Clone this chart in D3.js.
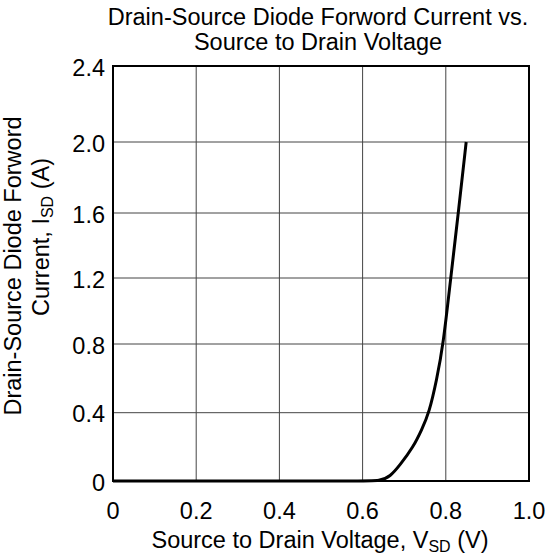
<!DOCTYPE html>
<html>
<head>
<meta charset="utf-8">
<script src="https://cdn.jsdelivr.net/npm/d3@7"></script>
<style>
  body { margin: 0; background: #fff; }
  text { font-family: "Liberation Sans", Arial, sans-serif; fill: #000; }
</style>
</head>
<body>
<div class="chart"></div>
<script>
// data
const vsd = [0, 0.30, 0.60, 0.642, 0.666, 0.690, 0.722, 0.742, 0.760, 0.778, 0.794, 0.810, 0.832, 0.849];
const isd = [0, 0, 0, 0, 0.025, 0.094, 0.20, 0.30, 0.40, 0.59, 0.80, 1.16, 1.64, 2.00];
const xTicks = [0, 0.2, 0.4, 0.6, 0.8, 1.0];
const yTicks = [0, 0.4, 0.8, 1.2, 1.6, 2.0, 2.4];
const xTickLabels = ["0", "0.2", "0.4", "0.6", "0.8", "1.0"];
const yTickLabels = ["0", "0.4", "0.8", "1.2", "1.6", "2.0", "2.4"];

const width = 552, height = 556;
const plot = {left: 113, right: 529, top: 66, bottom: 481};
const fs = 23.5;

const svg = d3.select('.chart').append('svg')
    .attr('width', width)
    .attr('height', height);

// Scales (gridlines in the original are slightly unevenly spaced)
const xScale = d3.scaleLinear().domain([0, 1]).range([plot.left, plot.right]);
const yScale = d3.scaleLinear()
    .domain(yTicks)
    .range([plot.bottom, 412.7, 344, 278, 213, 142, plot.top]);

// grid
svg.append('g').selectAll('line')
    .data(xTicks.slice(1, -1))
    .enter().append('line')
    .attr('x1', d => xScale(d)).attr('x2', d => xScale(d))
    .attr('y1', plot.top).attr('y2', plot.bottom)
    .attr('stroke', '#444').attr('stroke-width', 1);

svg.append('g').selectAll('line')
    .data(yTicks.slice(1, -1))
    .enter().append('line')
    .attr('x1', plot.left).attr('x2', plot.right)
    .attr('y1', d => yScale(d)).attr('y2', d => yScale(d))
    .attr('stroke', '#444').attr('stroke-width', 1);

// frame
svg.append('rect')
    .attr('x', plot.left).attr('y', plot.top)
    .attr('width', plot.right - plot.left).attr('height', plot.bottom - plot.top)
    .attr('fill', 'none').attr('stroke', '#000').attr('stroke-width', 2);

// curve
const line = d3.line()
    .x((d, i) => xScale(vsd[i]))
    .y((d, i) => yScale(isd[i]))
    .curve(d3.curveBasis);

svg.append('path')
    .datum(vsd)
    .attr('d', line)
    .attr('fill', 'none')
    .attr('stroke', '#000')
    .attr('stroke-width', 3);

// tick labels
svg.append('g').selectAll('text')
    .data(xTicks)
    .enter().append('text')
    .attr('x', d => xScale(d))
    .attr('y', 519)
    .attr('text-anchor', 'middle')
    .attr('font-size', fs)
    .text((d, i) => xTickLabels[i]);

svg.append('g').selectAll('text')
    .data(yTicks)
    .enter().append('text')
    .attr('x', 105)
    .attr('y', d => yScale(d) + 9.5)
    .attr('text-anchor', 'end')
    .attr('font-size', fs)
    .text((d, i) => yTickLabels[i]);

// title
svg.append('text')
    .attr('x', 318).attr('y', 25)
    .attr('text-anchor', 'middle').attr('font-size', fs)
    .text('Drain-Source Diode Forword Current vs.');
svg.append('text')
    .attr('x', 318).attr('y', 50)
    .attr('text-anchor', 'middle').attr('font-size', fs)
    .text('Source to Drain Voltage');

// x label
const xl = svg.append('text')
    .attr('x', 320).attr('y', 548)
    .attr('text-anchor', 'middle').attr('font-size', fs);
xl.append('tspan').text('Source to Drain Voltage, V');
xl.append('tspan').attr('font-size', 16).attr('dy', 4).text('SD');
xl.append('tspan').attr('dy', -4).text(' (V)');

// y label
svg.append('text')
    .attr('transform', 'translate(20.5,266) rotate(-90)')
    .attr('text-anchor', 'middle').attr('font-size', fs)
    .text('Drain-Source Diode Forword');
const yl = svg.append('text')
    .attr('transform', 'translate(49,237) rotate(-90)')
    .attr('text-anchor', 'middle').attr('font-size', fs);
yl.append('tspan').text('Current, I');
yl.append('tspan').attr('font-size', 16).attr('dy', 4).text('SD');
yl.append('tspan').attr('dy', -4).text(' (A)');
</script>
</body>
</html>
